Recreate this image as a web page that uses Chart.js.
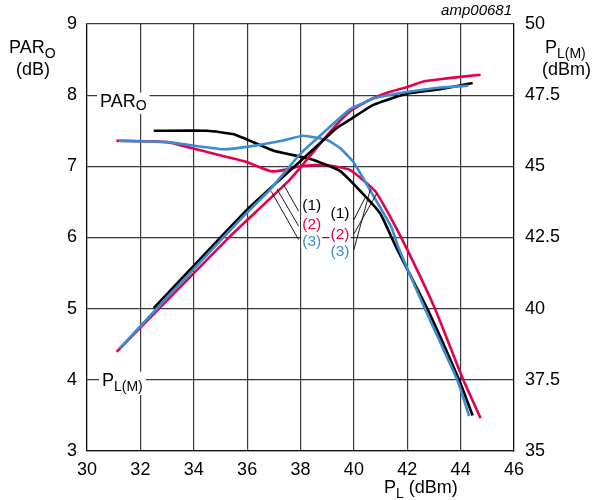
<!DOCTYPE html>
<html><head><meta charset="utf-8">
<script src="https://cdn.jsdelivr.net/npm/chart.js@4/dist/chart.umd.min.js"></script>
<style>html,body{margin:0;padding:0;background:#fff}canvas{display:block}</style>
</head><body>
<canvas id="c" width="592" height="500"></canvas>
<script>
const FONT = "'Liberation Sans', Arial, Helvetica, sans-serif";
const RED = '#e4004e', BLUE = '#3a8dd2', BLACK = '#000000';
const GRID = 'rgba(0,0,0,0.78)';

// x axis: P_L (dBm)
const xMin = 30, xMax = 46, xStep = 2;
// left axis: PAR_O (dB)
const yMin = 3, yMax = 9, yStep = 1;
// right axis: P_L(M) (dBm)
const y1Min = 35, y1Max = 50, y1Step = 2.5;

// PAR_O curves (left axis)
const parX1 = [32.5, 34.5, 35.5, 37.0, 38.4, 39.5, 40.5, 41.0, 41.6, 42.75, 43.94, 44.45];
const parY1 = [7.50, 7.50, 7.45, 7.22, 7.10, 6.93, 6.55, 6.33, 5.85, 5.00, 4.00, 3.50];
const parX2 = [31.1, 33.0, 34.2, 35.9, 36.9, 37.4, 38.0, 38.85, 39.85, 40.8, 41.35, 42.0, 43.04, 44.1, 44.75];
const parY2 = [7.36, 7.34, 7.23, 7.07, 6.93, 6.95, 7.00, 7.02, 6.95, 6.65, 6.30, 5.83, 5.00, 4.00, 3.46];
const parX3 = [31.2, 33.0, 35.1, 36.1, 37.3, 38.1, 39.0, 39.5, 40.0, 40.6, 41.4, 41.7, 42.66, 43.87, 44.32];
const parY3 = [7.36, 7.34, 7.24, 7.28, 7.36, 7.43, 7.37, 7.25, 7.05, 6.67, 6.15, 5.83, 5.00, 4.00, 3.49];

// P_L(M) curves (right axis)
const plmX1 = [32.5, 33.86, 36.0, 37.9, 39.36, 39.85, 40.73, 41.98, 43.23, 44.45];
const plmY1 = [40.02, 41.37, 43.48, 45.10, 46.35, 46.64, 47.16, 47.55, 47.71, 47.93];
const plmX2 = [31.11, 35.36, 37.6, 39.1, 39.85, 40.6, 41.3, 41.98, 42.6, 43.4, 44.75];
const plmY2 = [38.48, 42.54, 44.53, 46.2, 46.93, 47.34, 47.6, 47.78, 47.98, 48.08, 48.22];
const plmX3 = [31.24, 33.86, 35.86, 36.86, 38.0, 39.0, 39.85, 40.3, 40.73, 41.98, 43.23, 44.29];
const plmY3 = [38.62, 41.25, 43.24, 44.18, 45.45, 46.3, 47.0, 47.2, 47.38, 47.61, 47.77, 47.83];

// annotation texts and anchors (data units: x, left-axis y)
const curveLabels = ['(1)', '(2)', '(3)'];
const labelColors = [BLACK, RED, BLUE];
const leftLabelX = 38.42, leftLabelY = [6.46, 6.20, 5.96];
const rightLabelX = 39.48, rightLabelY = [6.35, 6.06, 5.81];
const leftLeaders = [[37.37, 6.74, 37.93, 6.37], [37.12, 6.68, 37.93, 6.16], [36.90, 6.65, 37.93, 5.97]];
const rightLeaders = [[40.0, 6.25, 40.45, 6.58], [40.0, 6.05, 40.86, 6.62], [40.0, 5.83, 40.62, 6.68]];

const pts = (xs, ys) => xs.map((v, i) => ({x: v, y: ys[i]}));
const ds = (xs, ys, color, axis) => ({
  data: pts(xs, ys), borderColor: color, backgroundColor: color, borderWidth: 2.6,
  pointRadius: 0, fill: false, yAxisID: axis, tension: 0.15
});

function subText(ctx, main, sub, x, y, size, subSize, drop, bg) {
  ctx.font = size + 'px ' + FONT;
  const w1 = ctx.measureText(main).width;
  ctx.font = subSize + 'px ' + FONT;
  const w2 = ctx.measureText(sub).width;
  if (bg) { ctx.fillStyle = '#fff'; ctx.fillRect(x - 3, y - size * 0.8, w1 + w2 + 6, size * 0.8 + drop + 4); }
  ctx.fillStyle = '#000';
  ctx.textAlign = 'left'; ctx.textBaseline = 'alphabetic';
  ctx.font = size + 'px ' + FONT;
  ctx.fillText(main, x, y);
  ctx.font = subSize + 'px ' + FONT;
  ctx.fillText(sub, x + w1, y + drop);
  return w1 + w2;
}

const annot = {
  id: 'annot',
  afterDraw(chart) {
    const {ctx, scales} = chart;
    const X = v => scales.x.getPixelForValue(v), Y = v => scales.y.getPixelForValue(v);
    ctx.save();
    // leader lines
    ctx.strokeStyle = '#000'; ctx.lineWidth = 0.9;
    [...leftLeaders, ...rightLeaders].forEach(l => {
      ctx.beginPath(); ctx.moveTo(X(l[0]), Y(l[1])); ctx.lineTo(X(l[2]), Y(l[3])); ctx.stroke();
    });
    // (1)(2)(3) labels
    ctx.font = '15.5px ' + FONT; ctx.textAlign = 'center'; ctx.textBaseline = 'middle';
    const drawLab = (xv, yv, i) => {
      const px = X(xv), py = Y(yv);
      const w = ctx.measureText(curveLabels[i]).width;
      ctx.fillStyle = '#fff'; ctx.fillRect(px - w / 2 - 1, py - 8, w + 2, 16);
      ctx.fillStyle = labelColors[i]; ctx.fillText(curveLabels[i], px, py + 1);
    };
    leftLabelY.forEach((v, i) => drawLab(leftLabelX, v, i));
    rightLabelY.forEach((v, i) => drawLab(rightLabelX, v, i));
    // in-plot curve group labels
    subText(ctx, 'PAR', 'O', 100, 107, 18, 14, 3, true);
    subText(ctx, 'P', 'L(M)', 102, 386, 18, 14, 5, true);
    // axis titles
    subText(ctx, 'PAR', 'O', 9, 53, 18, 14, 5, false);
    ctx.font = '18px ' + FONT; ctx.fillStyle = '#000'; ctx.textAlign = 'left';
    ctx.fillText('(dB)', 16, 75);
    subText(ctx, 'P', 'L(M)', 545, 53, 18, 14, 5, false);
    ctx.font = '18px ' + FONT; ctx.textAlign = 'left';
    ctx.fillText('(dBm)', 542, 75);
    const w = subText(ctx, 'P', 'L', 384, 493, 18, 14, 5, false);
    ctx.font = '18px ' + FONT; ctx.textAlign = 'left';
    ctx.fillText(' (dBm)', 384 + w, 493);
    // figure code
    ctx.font = 'italic 15px ' + FONT; ctx.textAlign = 'right';
    ctx.fillText('amp00681', 512, 15);
    ctx.restore();
  }
};

new Chart(document.getElementById('c'), {
  type: 'line',
  data: {
    datasets: [
      ds(plmX3, plmY3, BLUE, 'y1'),
      ds(plmX1, plmY1, BLACK, 'y1'),
      ds(plmX2, plmY2, RED, 'y1'),
      ds(parX3, parY3, BLUE, 'y'),
      ds(parX1, parY1, BLACK, 'y'),
      ds(parX2, parY2, RED, 'y')
    ]
  },
  options: {
    responsive: false, animation: false, devicePixelRatio: 1,
    layout: {padding: {top: 24, left: 0, right: 0, bottom: 0}},
    plugins: {legend: {display: false}, tooltip: {enabled: false}},
    scales: {
      x: {
        type: 'linear', min: xMin, max: xMax,
        ticks: {stepSize: xStep, color: '#000', font: {family: FONT, size: 18}, padding: 8, maxRotation: 0},
        grid: {color: GRID, lineWidth: 1.2, drawTicks: false},
        border: {color: GRID, width: 1.2},
        afterFit: s => { s.height = 49; }
      },
      y: {
        position: 'left', min: yMin, max: yMax,
        ticks: {stepSize: yStep, color: '#000', font: {family: FONT, size: 18}, padding: 10},
        grid: {color: GRID, lineWidth: 1.2, drawTicks: false},
        border: {color: GRID, width: 1.2},
        afterFit: s => { s.width = 87; }
      },
      y1: {
        position: 'right', min: y1Min, max: y1Max,
        ticks: {stepSize: y1Step, color: '#000', font: {family: FONT, size: 18}, padding: 11},
        grid: {display: false, drawTicks: false},
        border: {color: GRID, width: 1.2},
        afterFit: s => { s.width = 78; }
      }
    }
  },
  plugins: [annot]
});
</script>
</body></html>
